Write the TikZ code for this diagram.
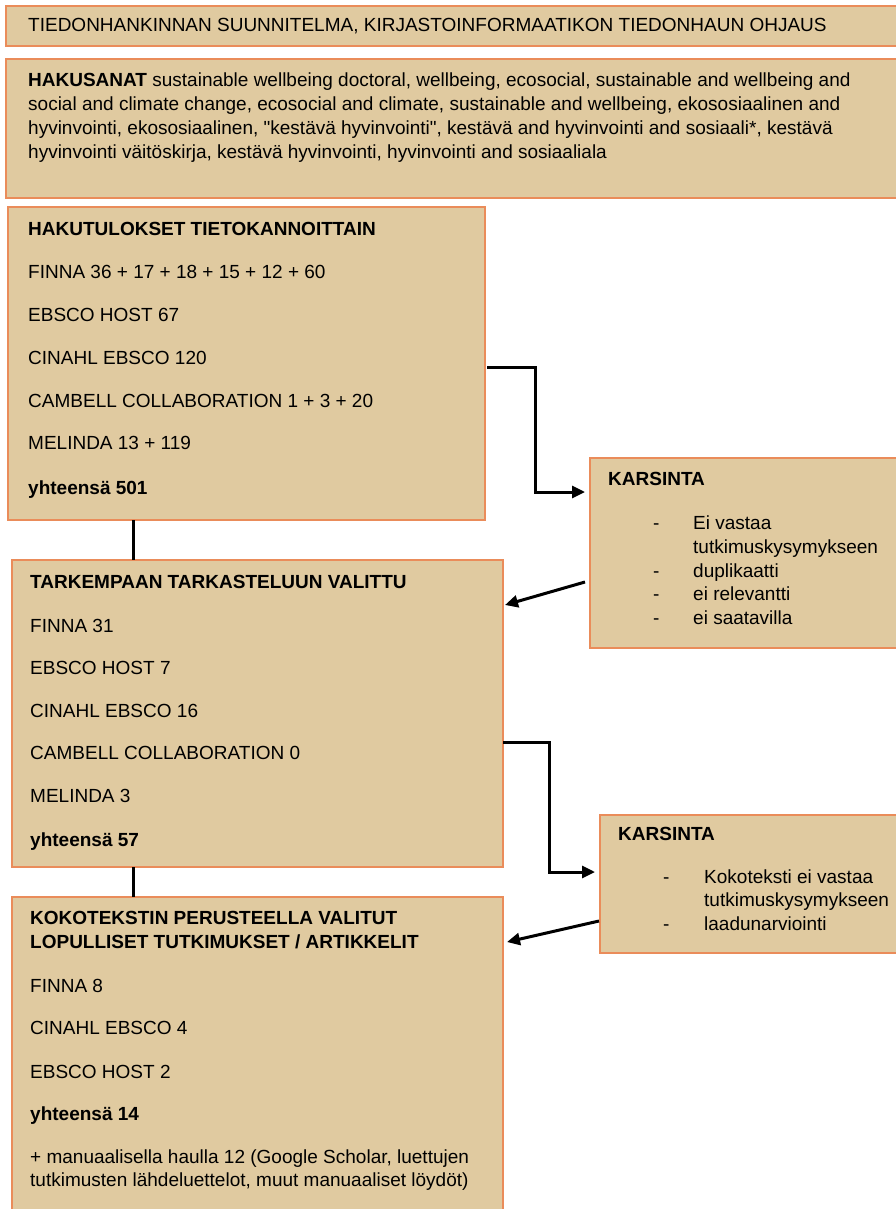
\documentclass[tikz,border=0pt]{standalone}
\usepackage{fontspec}
\setmainfont{Liberation Sans}[Ligatures=TeXOff]
\usetikzlibrary{arrows.meta}
\definecolor{boxfill}{RGB}{224,202,160}
\definecolor{boxline}{RGB}{234,140,90}
\tikzset{
  panel/.style={draw=boxline, fill=boxfill, line width=2pt, inner sep=0pt, outer sep=0pt, anchor=north west},
  txt/.style={anchor=base west, inner sep=0pt, font=\fontsize{19}{23}\selectfont},
  conn/.style={line width=3pt, black},
  arr/.style={conn, -{Triangle[length=13pt,width=12pt]}}
}
\begin{document}
\begin{tikzpicture}[x=1pt,y=1pt]
\useasboundingbox (0,0) rectangle (896,-1209);
% boxes
\node[panel, minimum width=894, minimum height=40] (top) at (6,-6) {};
\node[panel, minimum width=894, minimum height=139] (kw) at (6,-59) {};
\node[panel, minimum width=477, minimum height=313] (res) at (8,-207) {};
\node[panel, minimum width=310, minimum height=190] (k1) at (590,-458) {};
\node[panel, minimum width=491, minimum height=307] (sel) at (12,-560) {};
\node[panel, minimum width=310, minimum height=138] (k2) at (600,-815) {};
\node[panel, minimum width=491, minimum height=330] (fin) at (12,-897) {};
% texts
\node[txt] (t0) at (28,-32) {TIEDONHANKINNAN SUUNNITELMA, KIRJASTOINFORMAATIKON TIEDONHAUN OHJAUS};
\node[txt] (kw1) at (28,-87) {\textbf{HAKUSANAT} sustainable wellbeing doctoral, wellbeing, ecosocial, sustainable and wellbeing and};
\node[txt] (kw2) at (28,-111) {social and climate change, ecosocial and climate, sustainable and wellbeing, ekososiaalinen and};
\node[txt] (kw3) at (28,-135) {hyvinvointi, ekososiaalinen, "kestävä hyvinvointi", kestävä and hyvinvointi and sosiaali*, kestävä};
\node[txt] (kw4) at (28,-159) {hyvinvointi väitöskirja, kestävä hyvinvointi, hyvinvointi and sosiaaliala};
% results
\node[txt] (r0) at (28,-235) {\textbf{HAKUTULOKSET TIETOKANNOITTAIN}};
\node[txt] (r1) at (28,-278) {FINNA 36 + 17 + 18 + 15 + 12 + 60};
\node[txt] (r2) at (28,-321) {EBSCO HOST 67};
\node[txt] (r3) at (28,-364) {CINAHL EBSCO 120};
\node[txt] (r4) at (28,-407) {CAMBELL COLLABORATION 1 + 3 + 20};
\node[txt] (r5) at (28,-449) {MELINDA 13 + 119};
\node[txt] (r6) at (28,-494) {\textbf{yhteensä 501}};
% karsinta 1
\node[txt] (k1t) at (608,-485) {\textbf{KARSINTA}};
\node[txt] (k1d1) at (653,-529) {-};
\node[txt] (k1a) at (693,-529) {Ei vastaa};
\node[txt] (k1b) at (693,-553) {tutkimuskysymykseen};
\node[txt] (k1d2) at (653,-577) {-};
\node[txt] (k1c) at (693,-577) {duplikaatti};
\node[txt] (k1d3) at (653,-600) {-};
\node[txt] (k1e) at (693,-600) {ei relevantti};
\node[txt] (k1d4) at (653,-624) {-};
\node[txt] (k1f) at (693,-624) {ei saatavilla};
% selected
\node[txt] (s0) at (30,-588) {\textbf{TARKEMPAAN TARKASTELUUN VALITTU}};
\node[txt] (s1) at (30,-632) {FINNA 31};
\node[txt] (s2) at (30,-674) {EBSCO HOST 7};
\node[txt] (s3) at (30,-717) {CINAHL EBSCO 16};
\node[txt] (s4) at (30,-759) {CAMBELL COLLABORATION 0};
\node[txt] (s5) at (30,-802) {MELINDA 3};
\node[txt] (s6) at (30,-846) {\textbf{yhteensä 57}};
% karsinta 2
\node[txt] (k2t) at (618,-840) {\textbf{KARSINTA}};
\node[txt] (k2d1) at (663,-883) {-};
\node[txt] (k2a) at (704,-883) {Kokoteksti ei vastaa};
\node[txt] (k2b) at (704,-906) {tutkimuskysymykseen};
\node[txt] (k2d2) at (663,-930) {-};
\node[txt] (k2c) at (704,-930) {laadunarviointi};
% final
\node[txt] (f0) at (30,-924) {\textbf{KOKOTEKSTIN PERUSTEELLA VALITUT}};
\node[txt] (f0b) at (30,-948) {\textbf{LOPULLISET TUTKIMUKSET / ARTIKKELIT}};
\node[txt] (f1) at (30,-992) {FINNA 8};
\node[txt] (f2) at (30,-1034) {CINAHL EBSCO 4};
\node[txt] (f3) at (30,-1078) {EBSCO HOST 2};
\node[txt] (f4) at (30,-1120) {\textbf{yhteensä 14}};
\node[txt] (f5) at (30,-1163) {+ manuaalisella haulla 12 (Google Scholar, luettujen};
\node[txt] (f6) at (30,-1186) {tutkimusten lähdeluettelot, muut manuaaliset löydöt)};
% connector coordinates
\coordinate (vx) at (133,0);
\coordinate (e1s) at (487,-367);
\coordinate (e1c) at (535,-367);
\coordinate (e1y) at (0,-492);
\coordinate (a2s) at (585,-582);
\coordinate (a2e) at (505,-605);
\coordinate (e2s) at (503,-742);
\coordinate (e2c) at (549,-742);
\coordinate (e2y) at (0,-872);
\coordinate (a4s) at (599,-921);
\coordinate (a4e) at (507,-942);
% connectors
\draw[conn] (res.south -| vx) -- (sel.north -| vx);
\draw[conn] (sel.south -| vx) -- (fin.north -| vx);
\draw[arr] (e1s) -- (e1c) -- (e1c |- e1y) -- ([xshift=-5pt]k1.west |- e1y);
\draw[arr] (a2s) -- (a2e);
\draw[arr] (e2s) -- (e2c) -- (e2c |- e2y) -- ([xshift=-5pt]k2.west |- e2y);
\draw[arr] (a4s) -- (a4e);
\end{tikzpicture}
\end{document}
